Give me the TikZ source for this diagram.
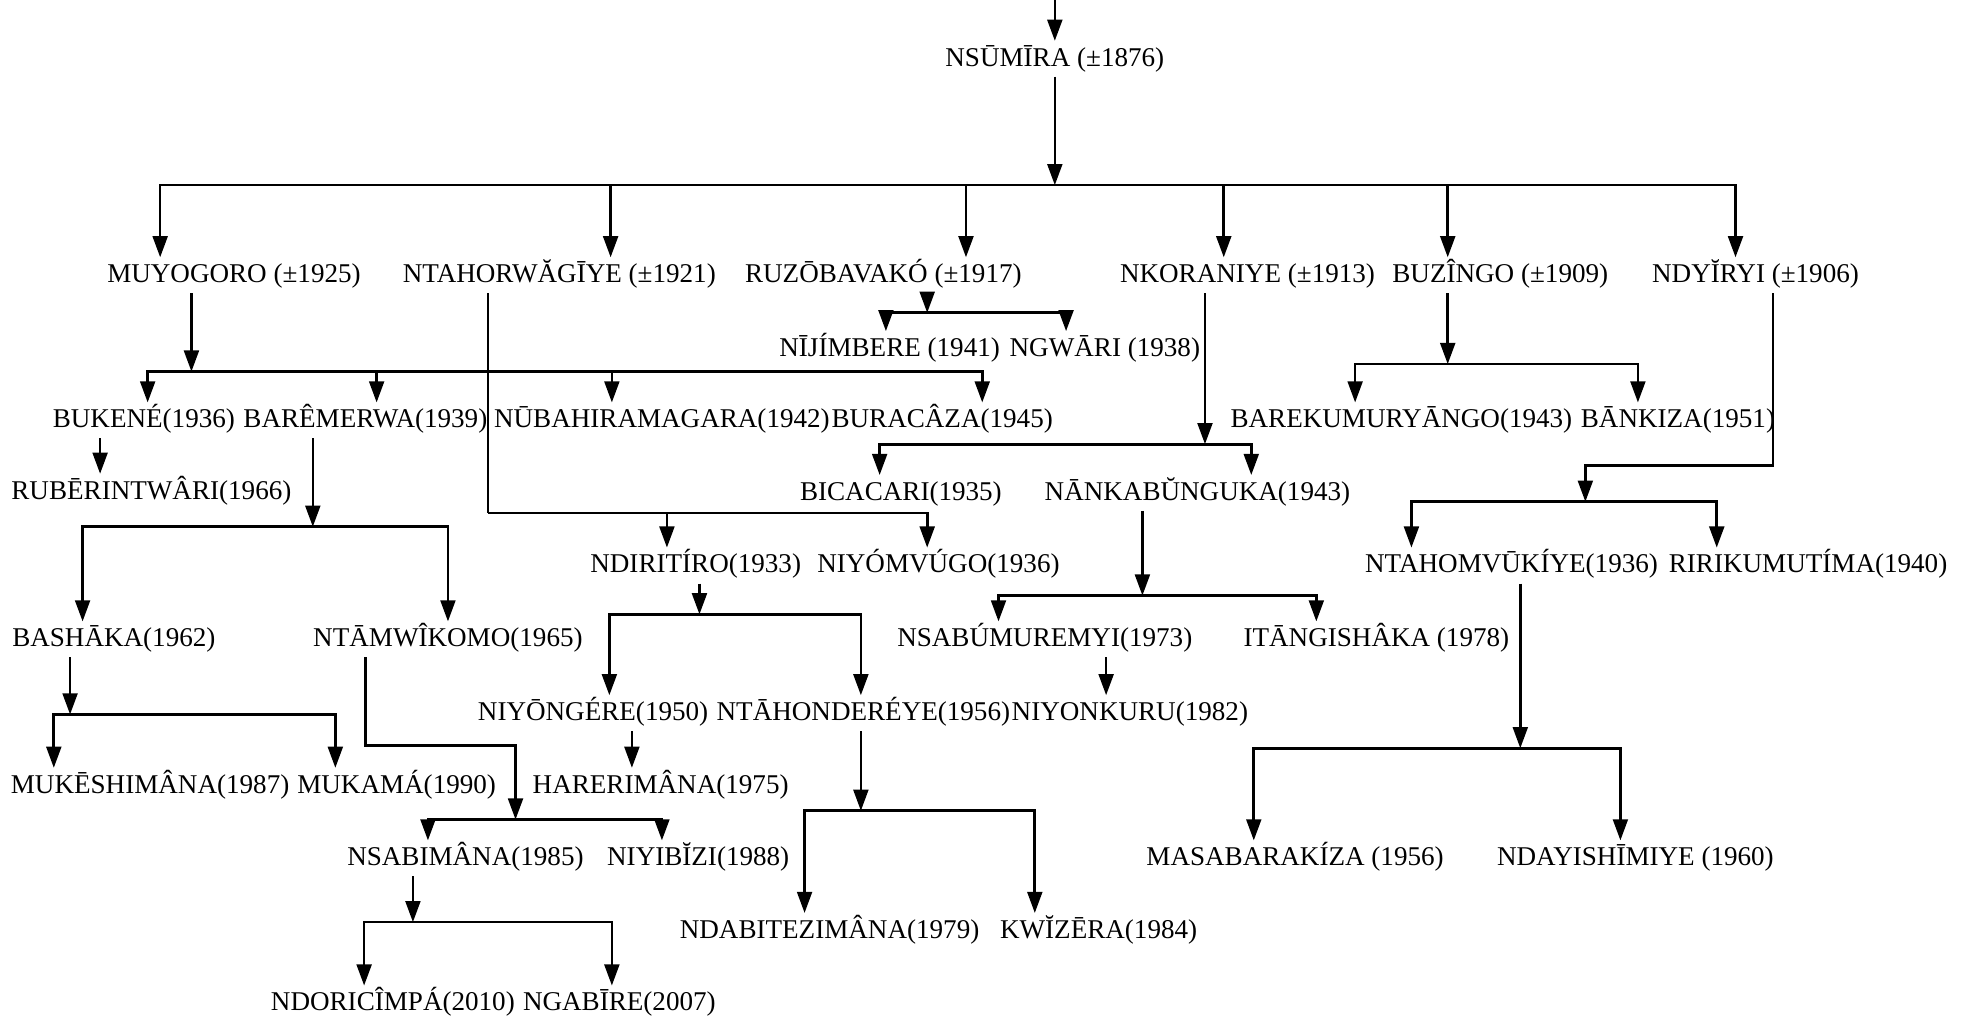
\documentclass[tikz,border=0pt]{standalone}
\usepackage{fontspec}
\setmainfont{Liberation Serif}
\usetikzlibrary{arrows.meta,calc,positioning}

\tikzset{
  person/.style={inner sep=1pt, text height=6pt, text depth=1.8pt, font=\fontsize{7.7}{9}\selectfont},
  kin/.style={line width=0.75pt},
  kinarrow/.style={kin, -{Triangle[length=6pt,width=4.2pt]}}
}

\begin{document}
\begin{tikzpicture}[x=0.0125cm, y=-0.0125cm]
\useasboundingbox (0,0) rectangle (1568,814);

\node[person] (nsumira) at (843,47) {NSŪMĪRA (±1876)};

\node[person] (muyogoro) at (187,220) {MUYOGORO (±1925)};
\node[person] (ntahorwagiye) at (447,220) {NTAHORWĂGĪYE (±1921)};
\node[person] (ruzobavako) at (706,220) {RUZŌBAVAKÓ (±1917)};
\node[person] (nkoraniye) at (997,220) {NKORANIYE (±1913)};
\node[person] (buzingo) at (1199,220) {BUZÎNGO (±1909)};
\node[person] (ndyiryi) at (1403,220) {NDYĬRYI (±1906)};

\node[person] (nijimbere) at (711,279) {NĪJÍMBERE (1941)};
\node[person] (ngwari) at (883,279) {NGWĀRI (1938)};

\node[person] (bukene) at (115,336) {BUKENÉ(1936)};
\node[person] (baremerwa) at (292,336) {BARÊMERWA(1939)};
\node[person] (nubahiramagara) at (529,336) {NŪBAHIRAMAGARA(1942)};
\node[person] (buracaza) at (753,336) {BURACÂZA(1945)};
\node[person] (barekumuryango) at (1120,336) {BAREKUMURYĀNGO(1943)};
\node[person] (bankiza) at (1341,336) {BĀNKIZA(1951)};

\node[person] (ruberintwari) at (121,393) {RUBĒRINTWÂRI(1966)};
\node[person] (bicacari) at (720,394) {BICACARI(1935)};
\node[person] (nankabunguka) at (957,394) {NĀNKABŬNGUKA(1943)};

\node[person] (ndiritiro) at (556,452) {NDIRITÍRO(1933)};
\node[person] (niyomvugo) at (750,452) {NIYÓMVÚGO(1936)};
\node[person] (ntahomvukiye) at (1208,452) {NTAHOMVŪKÍYE(1936)};
\node[person] (ririkumutima) at (1445,452) {RIRIKUMUTÍMA(1940)};

\node[person] (bashaka) at (91,511) {BASHĀKA(1962)};
\node[person] (ntamwikomo) at (358,511) {NTĀMWÎKOMO(1965)};
\node[person] (nsabumuremyi) at (835,511) {NSABÚMUREMYI(1973)};
\node[person] (itangishaka) at (1100,511) {ITĀNGISHÂKA (1978)};

\node[person] (niyongere) at (474,570) {NIYŌNGÉRE(1950)};
\node[person] (ntahondereye) at (690,570) {NTĀHONDERÉYE(1956)};
\node[person] (niyonkuru) at (903,570) {NIYONKURU(1982)};

\node[person] (mukeshimana) at (120,628) {MUKĒSHIMÂNA(1987)};
\node[person] (mukama) at (317,628) {MUKAMÁ(1990)};
\node[person] (harerimana) at (528,628) {HARERIMÂNA(1975)};

\node[person] (nsabimana) at (372,686) {NSABIMÂNA(1985)};
\node[person] (niyibizi) at (558,686) {NIYIBĬZI(1988)};
\node[person] (masabarakiza) at (1035,686) {MASABARAKÍZA (1956)};
\node[person] (ndayishimiye) at (1307,686) {NDAYISHĪMIYE (1960)};

\node[person] (ndabitezimana) at (663,744) {NDABITEZIMÂNA(1979)};
\node[person] (kwizera) at (878,744) {KWĬZĒRA(1984)};

\node[person] (ndoricimpa) at (314,802) {NDORICÎMPÁ(2010)};
\node[person] (ngabire) at (495,802) {NGABĪRE(2007)};

\coordinate (root) at (843,0);
\coordinate (j0) at (843,148);
\coordinate (j1) at (741,250);
\coordinate (j2) at (153,297);
\coordinate (j3) at (250,421);
\coordinate (j4) at (390,410);
\coordinate (j5) at (963,355);
\coordinate (j6) at (1157,291);
\coordinate (j7) at (1267,401);
\coordinate (j8) at (559,491);
\coordinate (j9) at (913,476);
\coordinate (j10) at (56,571);
\coordinate (j11) at (412,655);
\coordinate (j12) at (688,648);
\coordinate (j13) at (1215,598);
\coordinate (j14) at (330,737);

\draw[kinarrow] (root) -- (nsumira.north);

\draw[kinarrow] (nsumira.south) -- (j0);
\draw[kinarrow] (j0) -| ($(muyogoro.north)+(-59,0)$);
\draw[kinarrow] (j0) -| ($(ntahorwagiye.north)+(41,0)$);
\draw[kinarrow] (j0) -| ($(ruzobavako.north)+(66,0)$);
\draw[kinarrow] (j0) -| ($(nkoraniye.north)+(-19,0)$);
\draw[kinarrow] (j0) -| ($(buzingo.north)+(-42,0)$);
\draw[kinarrow] (j0) -| ($(ndyiryi.north)+(-16,0)$);

\draw[kinarrow] (ruzobavako.south -| j1) -- (j1);
\draw[kinarrow] (j1) -| ($(nijimbere.north)+(-3,0)$);
\draw[kinarrow] (j1) -| ($(ngwari.north)+(-31,0)$);

\draw[kinarrow] (muyogoro.south -| j2) -- (j2);
\draw[kinarrow] (j2) -| ($(bukene.north)+(3,0)$);
\draw[kinarrow] (j2) -| ($(baremerwa.north)+(9,0)$);
\draw[kinarrow] (j2) -| ($(nubahiramagara.north)+(-40,0)$);
\draw[kinarrow] (j2) -| ($(buracaza.north)+(32,0)$);

\draw[kinarrow] ($(bukene.south)+(-35,0)$) -- ($(ruberintwari.north)+(-41,0)$);

\draw[kinarrow] (baremerwa.south -| j3) -- (j3);
\draw[kinarrow] (j3) -| ($(bashaka.north)+(-25,0)$);
\draw[kinarrow] (j3) -| (ntamwikomo.north);

\draw[kin] (ntahorwagiye.south -| j4) -- (j4);
\draw[kinarrow] (j4) -| ($(ndiritiro.north)+(-23,0)$);
\draw[kinarrow] (j4) -| ($(niyomvugo.north)+(-9,0)$);

\draw[kinarrow] (nkoraniye.south -| j5) -- (j5);
\draw[kinarrow] (j5) -| ($(bicacari.north)+(-17,0)$);
\draw[kinarrow] (j5) -| ($(nankabunguka.north)+(43,0)$);

\draw[kinarrow] (buzingo.south -| j6) -- (j6);
\draw[kinarrow] (j6) -| ($(barekumuryango.north)+(-37,0)$);
\draw[kinarrow] (j6) -| ($(bankiza.north)+(-32,0)$);

\draw[kinarrow] ($(ndyiryi.south)+(14,0)$) |- ($(j7)+(0,-29)$) -- (j7);
\draw[kinarrow] (j7) -| ($(ntahomvukiye.north)+(-80,0)$);
\draw[kinarrow] (j7) -| ($(ririkumutima.north)+(-73,0)$);

\draw[kinarrow] (ndiritiro.south -| j8) -- (j8);
\draw[kinarrow] (j8) -| ($(niyongere.north)+(13,0)$);
\draw[kinarrow] (j8) -| ($(ntahondereye.north)+(-2,0)$);

\draw[kinarrow] (nankabunguka.south -| j9) -- (j9);
\draw[kinarrow] (j9) -| ($(nsabumuremyi.north)+(-37,0)$);
\draw[kinarrow] (j9) -| ($(itangishaka.north)+(-48,0)$);

\draw[kinarrow] ($(nsabumuremyi.south)+(49,0)$) -- ($(niyonkuru.north)+(-19,0)$);

\draw[kinarrow] (bashaka.south -| j10) -- (j10);
\draw[kinarrow] (j10) -| ($(mukeshimana.north)+(-77,0)$);
\draw[kinarrow] (j10) -| ($(mukama.north)+(-49,0)$);

\draw[kinarrow] ($(ntamwikomo.south)+(-66,0)$) |- ($(j11)+(0,-59)$) -- (j11);
\draw[kinarrow] (j11) -| ($(nsabimana.north)+(-30,0)$);
\draw[kinarrow] (j11) -| ($(niyibizi.north)+(-29,0)$);

\draw[kinarrow] ($(niyongere.south)+(31,0)$) -- ($(harerimana.north)+(-23,0)$);

\draw[kinarrow] (ntahondereye.south -| j12) -- (j12);
\draw[kinarrow] (j12) -| ($(ndabitezimana.north)+(-20,0)$);
\draw[kinarrow] (j12) -| ($(kwizera.north)+(-51,0)$);

\draw[kinarrow] (ntahomvukiye.south -| j13) -- (j13);
\draw[kinarrow] (j13) -| ($(masabarakiza.north)+(-33,0)$);
\draw[kinarrow] (j13) -| ($(ndayishimiye.north)+(-12,0)$);

\draw[kinarrow] (nsabimana.south -| j14) -- (j14);
\draw[kinarrow] (j14) -| ($(ndoricimpa.north)+(-23,0)$);
\draw[kinarrow] (j14) -| ($(ngabire.north)+(-6,0)$);

\end{tikzpicture}
\end{document}
